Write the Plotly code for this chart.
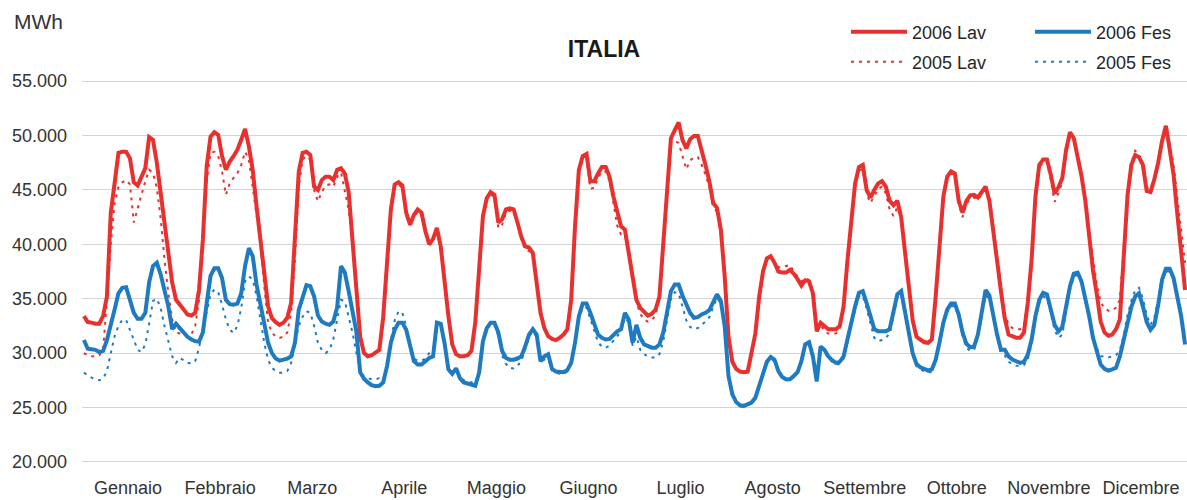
import plotly.graph_objects as go

months = ["Gennaio", "Febbraio", "Marzo", "Aprile", "Maggio", "Giugno",
          "Luglio", "Agosto", "Settembre", "Ottobre", "Novembre", "Dicembre"]

# 24 hourly values per month (MWh)
lav_2006 = [
    [33400, 32850, 32800, 32700, 32700, 33400, 35200, 42900, 45600, 48400, 48500, 48500, 47900, 45700, 45400, 46200, 47000, 49850, 49600, 47500, 44700, 42600, 39800, 36500],
    [34900, 34500, 34000, 33550, 33450, 33700, 35800, 40400, 47200, 49900, 50300, 50050, 48100, 46850, 47600, 48100, 48700, 49600, 50600, 49000, 46800, 43500, 40700, 37400],
    [34300, 33200, 32850, 32600, 32800, 33250, 34600, 40400, 46700, 48400, 48500, 48200, 45300, 45000, 45900, 46200, 46200, 45900, 46850, 47000, 46500, 44800, 40400, 36500],
    [31500, 30000, 29700, 29800, 30000, 30300, 33300, 38900, 43200, 45500, 45700, 45400, 42900, 41800, 42700, 43200, 42900, 41200, 40000, 40500, 41500, 39800, 36500, 33400],
    [30800, 29900, 29700, 29700, 29800, 30200, 32800, 38000, 42600, 44250, 44800, 44550, 42000, 42300, 43200, 43300, 43200, 42000, 40700, 39800, 39700, 39200, 36200, 33700],
    [32300, 31550, 31300, 31200, 31400, 31700, 32200, 34900, 41650, 46850, 48100, 48300, 45800, 45800, 46500, 47100, 47100, 46200, 44400, 42900, 41650, 41350, 39200, 36750],
    [34900, 34150, 33750, 33450, 33600, 34000, 35200, 40100, 45900, 49750, 50500, 51200, 49600, 48800, 49650, 49950, 49950, 48700, 47300, 45800, 43800, 43350, 41350, 37100],
    [31500, 29200, 28550, 28300, 28250, 28300, 30000, 31800, 35200, 37500, 38700, 38900, 38300, 37500, 37400, 37400, 37650, 37300, 36800, 36200, 36700, 36600, 35500, 32000],
    [32800, 32500, 32200, 32200, 32200, 32500, 34300, 38500, 42500, 45600, 47100, 47300, 45000, 44300, 45000, 45600, 45800, 45300, 44000, 43600, 44000, 42500, 39300, 36200],
    [33000, 31500, 31200, 31000, 30950, 31250, 35200, 40400, 44400, 46200, 46700, 46500, 44000, 42900, 44000, 44500, 44550, 44300, 44800, 45300, 44000, 41500, 38500, 35700],
    [33200, 31700, 31500, 31400, 31400, 31900, 34600, 38600, 44400, 47300, 47800, 47800, 46400, 44650, 45250, 46100, 48700, 50300, 49750, 48200, 46300, 44000, 41000, 37600],
    [35400, 32900, 31900, 31600, 31700, 32200, 33100, 39200, 44500, 47300, 48200, 48000, 47300, 44900, 44800, 46000, 47500, 49500, 50900, 48700, 46400, 42700, 39000, 35800],
]

fes_2006 = [
    [31200, 30400, 30350, 30300, 30100, 30200, 31200, 32500, 34000, 35500, 36000, 36050, 34900, 33700, 33150, 33150, 33700, 36500, 38000, 38300, 37250, 35800, 34300, 32200],
    [32700, 32300, 31900, 31500, 31250, 31100, 31050, 31900, 34600, 37100, 37800, 37800, 36900, 34900, 34500, 34450, 34550, 35500, 38000, 39650, 38900, 36300, 34500, 32500],
    [30950, 30000, 29500, 29300, 29400, 29500, 29700, 30950, 34000, 35200, 36250, 36150, 35200, 33450, 32900, 32700, 32600, 32900, 34200, 38000, 37400, 35700, 33900, 32000],
    [28250, 27650, 27300, 27050, 26950, 27000, 27300, 28800, 30950, 32150, 32800, 32800, 32150, 30500, 29250, 28950, 28950, 29250, 29550, 29700, 32800, 32700, 30900, 28500],
    [28100, 28600, 27700, 27300, 27200, 27100, 27000, 28200, 31100, 32300, 32800, 32800, 31900, 30200, 29550, 29400, 29400, 29500, 29700, 30600, 31700, 32200, 31700, 29250],
    [29700, 29900, 28550, 28300, 28250, 28250, 28450, 29100, 30950, 33400, 34550, 34550, 33700, 32550, 31700, 31400, 31250, 31300, 31650, 32000, 32200, 33700, 33100, 30950],
    [32600, 31400, 30800, 30650, 30500, 30500, 30800, 31900, 34000, 35700, 36300, 36300, 35300, 34450, 33700, 33250, 33300, 33550, 33700, 33950, 34600, 35400, 34800, 32500],
    [27900, 26200, 25500, 25200, 25150, 25300, 25450, 25900, 27100, 28200, 29200, 29650, 29400, 28350, 27800, 27600, 27600, 27900, 28250, 29250, 30800, 31000, 29700, 27400],
    [30600, 30300, 29700, 29350, 29100, 29200, 29700, 31250, 32950, 34300, 35550, 35700, 34600, 33400, 32200, 32000, 32000, 32000, 32200, 33700, 35400, 35700, 33700, 31950],
    [30000, 29000, 28700, 28550, 28400, 28500, 29400, 31000, 32800, 34000, 34550, 34550, 33550, 31900, 30850, 30550, 30600, 31700, 33700, 35800, 35300, 33450, 31700, 30300],
    [30300, 29700, 29400, 29250, 29100, 29200, 29850, 31250, 33400, 34900, 35550, 35400, 34000, 32600, 32000, 32400, 34300, 36150, 37300, 37400, 36600, 35100, 33400, 31400],
    [30000, 28950, 28550, 28400, 28500, 28650, 29700, 31250, 33100, 34250, 35200, 35500, 34300, 32850, 32150, 32600, 34450, 36750, 37750, 37750, 36900, 35100, 33350, 30800],
]

lav_2005 = [
    [30000, 29800, 29700, 29700, 29800, 30300, 34900, 40100, 43800, 45250, 45700, 45900, 45500, 42000, 43300, 44600, 45800, 46850, 46550, 45200, 42400, 38600, 35500, 33100],
    [31900, 31800, 31700, 31550, 31700, 32500, 34900, 40400, 45900, 48400, 48500, 48100, 46700, 44550, 45600, 46100, 46550, 47300, 48500, 47800, 45300, 42900, 40100, 36150],
    [32800, 31900, 31500, 31400, 31500, 31900, 33700, 38600, 45300, 47800, 48100, 47800, 45000, 43950, 44800, 45400, 45500, 45300, 46200, 46600, 45000, 43200, 40100, 36750],
    [31200, 30000, 29800, 29800, 30000, 30400, 33500, 39000, 43300, 45300, 45500, 45200, 42800, 41700, 42500, 43000, 42700, 41000, 39900, 40400, 41300, 39600, 36300, 33300],
    [30700, 29900, 29700, 29700, 29800, 30200, 32700, 37800, 42400, 44100, 44600, 44300, 41500, 41800, 42900, 43100, 43000, 41800, 40500, 39500, 39400, 38900, 36000, 33600],
    [32300, 31600, 31300, 31200, 31400, 31700, 32200, 34800, 41400, 46500, 47700, 47900, 45100, 45200, 46100, 46700, 46700, 45800, 43800, 41700, 40900, 40900, 38900, 36500],
    [34700, 33600, 33100, 32900, 33000, 33500, 35000, 39800, 45500, 49300, 49500, 49300, 48000, 46900, 47700, 48000, 48000, 47300, 46400, 45300, 43400, 43000, 41000, 37000],
    [31500, 29200, 28550, 28300, 28250, 28300, 30000, 31800, 35100, 37400, 38600, 38800, 38400, 37900, 37900, 38000, 38100, 37500, 37000, 36600, 36900, 36700, 35500, 32000],
    [32600, 32000, 31800, 31800, 31800, 32200, 34000, 38300, 42300, 45200, 46800, 46900, 44600, 43800, 44500, 45100, 45300, 44700, 43200, 42600, 43400, 42200, 39300, 36200],
    [33000, 31500, 31300, 31100, 31050, 31300, 35000, 40200, 44200, 46000, 46600, 46400, 43700, 42500, 43700, 44200, 44300, 44100, 44600, 45100, 43800, 41500, 38600, 35900],
    [33600, 32600, 32300, 32200, 32200, 32500, 34900, 38700, 44200, 47000, 47600, 47500, 45900, 43900, 44700, 45700, 48300, 49900, 49600, 48100, 46300, 43800, 41500, 38800],
    [36300, 34700, 34100, 33900, 33900, 34200, 34900, 39500, 44500, 47500, 48600, 48300, 47000, 45200, 45100, 46200, 47600, 49400, 50600, 49200, 47300, 44200, 41000, 38300],
]

fes_2005 = [
    [28200, 27950, 27750, 27600, 27500, 27650, 28350, 30000, 31550, 32500, 33050, 33050, 32150, 31100, 30300, 30100, 30800, 32700, 34800, 35000, 34150, 32500, 30950, 29700],
    [29100, 29550, 29350, 29100, 29050, 29250, 30500, 32150, 34000, 35400, 35850, 35600, 34450, 33100, 32150, 31850, 32500, 34150, 36600, 37050, 36750, 35250, 33100, 30950],
    [29400, 28650, 28350, 28200, 28200, 28350, 29100, 30950, 32500, 33350, 33850, 33700, 32500, 30950, 30300, 30000, 30300, 31250, 33100, 34900, 34750, 33400, 31900, 30050],
    [28400, 27800, 27700, 27600, 27600, 27700, 27700, 28800, 31200, 33000, 33850, 33700, 32500, 30700, 29500, 29300, 29300, 29500, 30000, 30300, 32200, 32300, 30800, 28600],
    [28000, 28300, 27800, 27500, 27400, 27300, 27200, 28300, 31000, 32100, 32700, 32600, 31600, 29800, 29000, 28600, 28600, 28800, 29300, 30300, 31500, 32000, 31500, 29200],
    [29400, 29500, 28400, 28200, 28100, 28100, 28300, 29000, 30800, 33100, 34200, 34200, 33200, 32000, 31000, 30600, 30500, 30700, 31100, 31600, 32000, 33300, 32800, 30700],
    [31500, 30300, 29900, 29700, 29600, 29600, 29900, 31100, 33200, 35000, 35600, 35500, 34300, 33000, 32400, 32200, 32300, 32600, 32900, 33300, 34200, 35100, 34500, 32200],
    [27700, 26000, 25400, 25100, 25050, 25200, 25350, 25800, 27000, 28100, 29100, 29500, 29200, 28200, 27700, 27500, 27500, 27800, 28200, 29100, 30600, 30800, 29500, 27300],
    [30400, 30100, 29500, 29200, 28950, 29000, 29500, 31000, 32600, 34000, 35200, 35300, 34100, 32700, 31400, 31100, 31200, 31400, 31800, 33400, 35100, 35500, 33500, 31800],
    [29800, 28800, 28500, 28350, 28200, 28300, 29200, 30800, 32600, 33800, 34300, 34300, 33300, 31600, 30500, 30200, 30300, 31400, 33500, 35300, 35000, 33300, 31500, 30000],
    [29800, 29200, 29000, 28850, 28800, 28900, 29400, 30800, 33100, 34600, 35200, 35100, 33700, 32100, 31400, 31700, 33800, 35800, 37000, 37200, 36400, 34900, 33200, 31200],
    [30500, 29700, 29700, 29600, 29700, 29800, 30300, 31600, 33500, 34800, 35800, 36000, 35000, 33500, 32600, 33300, 35000, 37000, 37500, 37500, 36800, 35200, 33800, 31500],
]

y_ticks = [20000, 25000, 30000, 35000, 40000, 45000, 50000, 55000]

RED = "#E8302E"
BLUE = "#1F7BC1"
FONT = "Liberation Sans, Arial, sans-serif"


def flat(rows):
    return [v for row in rows for v in row]


n_hours = len(lav_2006[0])
x = list(range(len(months) * n_hours))

fig = go.Figure()
fig.add_trace(go.Scatter(x=x, y=flat(lav_2005), name="2005 Lav", mode="lines",
                         line=dict(color=RED, width=2, dash="3px,5px"), legend="legend2"))
fig.add_trace(go.Scatter(x=x, y=flat(fes_2005), name="2005 Fes", mode="lines",
                         line=dict(color=BLUE, width=2, dash="3px,5px"), legend="legend2"))
fig.add_trace(go.Scatter(x=x, y=flat(lav_2006), name="2006 Lav", mode="lines",
                         line=dict(color=RED, width=4), legend="legend"))
fig.add_trace(go.Scatter(x=x, y=flat(fes_2006), name="2006 Fes", mode="lines",
                         line=dict(color=BLUE, width=4), legend="legend"))

L, R, T, B = 82, 0, 80, 37
W, H = 1187, 500
pw, ph = W - L - R, H - T - B


def px_x(px):
    return (px - L) / pw


def px_y(py):
    return (H - B - py) / ph


legend_common = dict(orientation="h", xanchor="left", yanchor="middle",
                     font=dict(family=FONT, size=18, color="#262626"),
                     bgcolor="rgba(0,0,0,0)", entrywidth=113, entrywidthmode="pixels",
                     itemwidth=56, traceorder="normal")

fig.update_layout(
    width=W, height=H,
    margin=dict(l=L, r=R, t=T, b=B, autoexpand=False),
    paper_bgcolor="white", plot_bgcolor="white",
    separators=",.",
    font=dict(family=FONT, size=18, color="#333333"),
    title=dict(text="<b>ITALIA</b>", x=604 / W, xref="container", xanchor="center",
               y=1 - 48.5 / H, yref="container", yanchor="middle",
               font=dict(family=FONT, size=23, color="#1a1a1a")),
    legend=dict(x=px_x(846), y=px_y(32), **legend_common),
    legend2=dict(x=px_x(846), y=px_y(62), **legend_common),
    showlegend=True,
    xaxis=dict(range=[-0.5, len(x) - 0.5],
               tickvals=[i * n_hours + (n_hours - 1) / 2 for i in range(len(months))],
               ticktext=months, showgrid=False, zeroline=False, ticks="",
               showline=False, tickangle=0,
               tickfont=dict(family=FONT, size=18, color="#333333"),
               ticklabelstandoff=12),
    yaxis=dict(range=[19900, 55100], tickvals=y_ticks, tickformat=",d",
               showgrid=True, gridcolor="#D3D3DB", gridwidth=1.3, zeroline=False,
               ticks="", showline=False,
               tickfont=dict(family=FONT, size=18, color="#333333"),
               ticklabelstandoff=14),
    annotations=[dict(text="MWh", x=px_x(12), y=px_y(22), xref="paper", yref="paper",
                      xanchor="left", yanchor="middle", showarrow=False,
                      font=dict(family=FONT, size=21, color="#333333"))],
)

fig.write_html("out.html", config={"displayModeBar": False},
               post_script="document.body.style.margin='0';")
